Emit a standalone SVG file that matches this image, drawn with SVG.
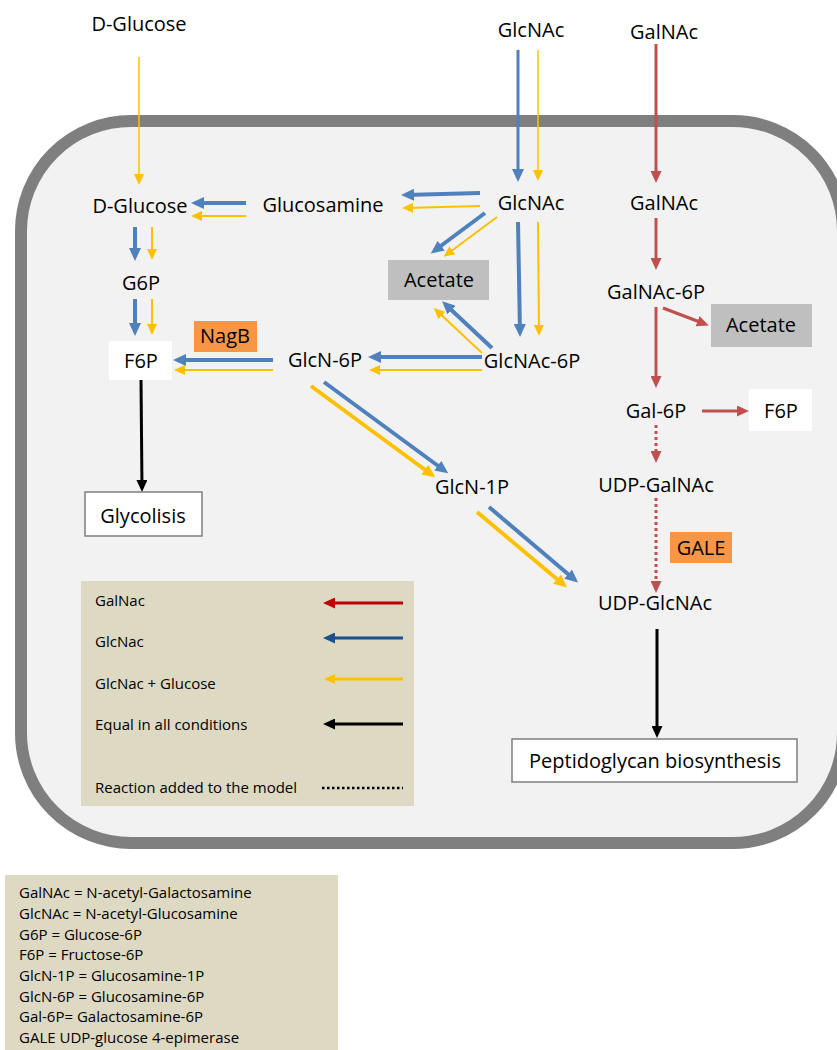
<svg xmlns="http://www.w3.org/2000/svg" width="837" height="1050" viewBox="0 0 837 1050">
<style>
text{font-family:"Open Sans","Liberation Sans",sans-serif;fill:#000}
.lbl{font-size:20px;text-anchor:middle}
.leg{font-size:15px}
.def{font-size:15px}
.b{stroke:#4f81bd;stroke-width:4;fill:none}
.bt{stroke:#4f81bd;stroke-width:3;fill:none}
.y{stroke:#ffc000;stroke-width:2;fill:none}
.yT{stroke:#ffc000;stroke-width:4;fill:none}
.yt{stroke:#ffc000;stroke-width:1.5;fill:none}
.r{stroke:#c0504d;stroke-width:3;fill:none}
.rd{stroke:#c0504d;stroke-width:3;fill:none;stroke-dasharray:3 3}
.k{stroke:#000;stroke-width:3;fill:none}
</style>
<defs>
<marker id="hb" markerUnits="userSpaceOnUse" markerWidth="14" markerHeight="12" refX="9" refY="6" orient="auto"><path d="M0,0 L13,6 L0,12 z" fill="#4f81bd"/></marker>
<marker id="hy" markerUnits="userSpaceOnUse" markerWidth="12" markerHeight="10" refX="8" refY="5" orient="auto"><path d="M0,0 L11,5 L0,10 z" fill="#ffc000"/></marker>
<marker id="hY" markerUnits="userSpaceOnUse" markerWidth="14" markerHeight="12" refX="9" refY="6" orient="auto"><path d="M0,0 L13,6 L0,12 z" fill="#ffc000"/></marker>
<marker id="hr" markerUnits="userSpaceOnUse" markerWidth="13" markerHeight="11" refX="8" refY="5.5" orient="auto"><path d="M0,0 L12,5.5 L0,11 z" fill="#c0504d"/></marker>
<marker id="hk" markerUnits="userSpaceOnUse" markerWidth="13" markerHeight="11" refX="8" refY="5.5" orient="auto"><path d="M0,0 L12,5.5 L0,11 z" fill="#000"/></marker>
<marker id="lr" markerUnits="userSpaceOnUse" markerWidth="13" markerHeight="11" refX="8" refY="5.5" orient="auto"><path d="M0,0 L12,5.5 L0,11 z" fill="#c00000"/></marker>
<marker id="lb" markerUnits="userSpaceOnUse" markerWidth="13" markerHeight="11" refX="8" refY="5.5" orient="auto"><path d="M0,0 L12,5.5 L0,11 z" fill="#1f4e8c"/></marker>
</defs>

<g id="cell">
<rect x="21" y="121" width="822" height="722" rx="110" ry="110" fill="#f2f2f2" stroke="#7f7f7f" stroke-width="12"/>
</g>

<g id="connectors">
<!-- external -->
<line class="yt" x1="139" y1="57" x2="139" y2="182" marker-end="url(#hy)"/>
<line class="bt" x1="518" y1="50" x2="518" y2="178" marker-end="url(#hb)"/>
<line class="yt" x1="538" y1="50" x2="538" y2="178" marker-end="url(#hy)"/>
<line class="r" x1="656" y1="44" x2="656" y2="179" marker-end="url(#hr)"/>
<!-- GlcNAc -> Glucosamine -->
<line class="b" x1="480" y1="193" x2="405" y2="195" marker-end="url(#hb)"/>
<line class="y" x1="480" y1="206" x2="405" y2="208" marker-end="url(#hy)"/>
<!-- Glucosamine -> D-Glucose -->
<line class="b" x1="246" y1="203" x2="195" y2="203" marker-end="url(#hb)"/>
<line class="y" x1="246" y1="216" x2="194" y2="216" marker-end="url(#hy)"/>
<!-- GlcNAc -> Acetate -->
<line class="b" x1="485" y1="213" x2="434" y2="251" marker-end="url(#hb)"/>
<line class="y" x1="497" y1="217" x2="446" y2="255" marker-end="url(#hy)"/>
<!-- GlcNAc -> GlcNAc-6P -->
<line class="b" x1="518" y1="222" x2="520" y2="333" marker-end="url(#hb)"/>
<line class="y" x1="538" y1="222" x2="539" y2="333" marker-end="url(#hy)"/>
<!-- GlcNAc-6P -> Acetate -->
<line class="b" x1="492" y1="348" x2="445" y2="304" marker-end="url(#hb)"/>
<line class="y" x1="482" y1="353" x2="436" y2="310" marker-end="url(#hy)"/>
<!-- GlcNAc-6P -> GlcN-6P -->
<line class="b" x1="482" y1="357" x2="372" y2="357" marker-end="url(#hb)"/>
<line class="y" x1="482" y1="370" x2="372" y2="370" marker-end="url(#hy)"/>
<!-- GlcN-6P -> F6P -->
<line class="b" x1="273" y1="360" x2="177" y2="360" marker-end="url(#hb)"/>
<line class="y" x1="273" y1="370" x2="177" y2="370" marker-end="url(#hy)"/>
<!-- D-Glucose -> G6P -> F6P -->
<line class="b" x1="135" y1="227" x2="135" y2="257" marker-end="url(#hb)"/>
<line class="y" x1="152" y1="227" x2="152" y2="257" marker-end="url(#hy)"/>
<line class="b" x1="135" y1="299" x2="135" y2="332" marker-end="url(#hb)"/>
<line class="y" x1="152" y1="299" x2="152" y2="332" marker-end="url(#hy)"/>
<!-- GlcN-6P -> GlcN-1P -->
<line class="b" x1="324" y1="382" x2="445" y2="471" marker-end="url(#hb)"/>
<line class="yT" x1="311" y1="386" x2="432" y2="475" marker-end="url(#hY)"/>
<!-- GlcN-1P -> UDP-GlcNAc -->
<line class="b" x1="489" y1="507" x2="575" y2="580" marker-end="url(#hb)"/>
<line class="yT" x1="477" y1="512" x2="564" y2="585" marker-end="url(#hY)"/>
<!-- black -->
<line class="k" x1="141" y1="380" x2="142" y2="488" marker-end="url(#hk)"/>
<line class="k" x1="657" y1="629" x2="657" y2="734" marker-end="url(#hk)"/>
<!-- GalNAc branch -->
<line class="r" x1="656" y1="218" x2="656" y2="266" marker-end="url(#hr)"/>
<line class="r" x1="663" y1="308" x2="705" y2="324" marker-end="url(#hr)"/>
<line class="r" x1="656" y1="307" x2="656" y2="384" marker-end="url(#hr)"/>
<line class="r" x1="702" y1="411" x2="745" y2="411" marker-end="url(#hr)"/>
<line class="rd" x1="656" y1="425" x2="656" y2="459" marker-end="url(#hr)"/>
<line class="rd" x1="656" y1="498" x2="656" y2="589" marker-end="url(#hr)"/>
</g>

<g id="n-dglucose-ext"><text class="lbl" x="139" y="31">D-Glucose</text></g>
<g id="n-glcnac-ext"><text class="lbl" x="531" y="37">GlcNAc</text></g>
<g id="n-galnac-ext"><text class="lbl" x="664" y="39">GalNAc</text></g>
<g id="n-dglucose"><text class="lbl" x="140" y="213">D-Glucose</text></g>
<g id="n-glucosamine"><text class="lbl" x="323" y="212">Glucosamine</text></g>
<g id="n-glcnac"><text class="lbl" x="531" y="210">GlcNAc</text></g>
<g id="n-galnac"><text class="lbl" x="664" y="210">GalNAc</text></g>
<g id="n-acetate1"><rect x="388" y="260" width="101" height="40" fill="#bfbfbf"/><text class="lbl" x="439" y="287">Acetate</text></g>
<g id="n-g6p"><text class="lbl" x="141" y="290">G6P</text></g>
<g id="n-nagb"><rect x="194" y="321" width="63" height="31" fill="#f79646"/><text class="lbl" x="225" y="343">NagB</text></g>
<g id="n-f6p"><rect x="109" y="341" width="63" height="39" fill="#fff"/><text class="lbl" x="141" y="368">F6P</text></g>
<g id="n-glcn6p"><text class="lbl" x="325" y="367">GlcN-6P</text></g>
<g id="n-glcnac6p"><text class="lbl" x="532" y="368">GlcNAc-6P</text></g>
<g id="n-glcn1p"><text class="lbl" x="472" y="494">GlcN-1P</text></g>
<g id="n-galnac6p"><text class="lbl" x="656" y="299">GalNAc-6P</text></g>
<g id="n-acetate2"><rect x="711" y="304" width="101" height="43" fill="#bfbfbf"/><text class="lbl" x="761" y="332">Acetate</text></g>
<g id="n-gal6p"><text class="lbl" x="656" y="418">Gal-6P</text></g>
<g id="n-f6p2"><rect x="749" y="389" width="63" height="42" fill="#fff"/><text class="lbl" x="781" y="418">F6P</text></g>
<g id="n-udpgalnac"><text class="lbl" x="656" y="492">UDP-GalNAc</text></g>
<g id="n-gale"><rect x="670" y="532" width="62" height="31" fill="#f79646"/><text class="lbl" x="701" y="555">GALE</text></g>
<g id="n-udpglcnac"><text class="lbl" x="655" y="610">UDP-GlcNAc</text></g>
<g id="n-glycolisis"><rect x="85" y="492" width="117" height="44" fill="#fff" stroke="#7f7f7f" stroke-width="1.5"/><text class="lbl" x="143" y="523">Glycolisis</text></g>
<g id="n-peptido"><rect x="512" y="739" width="285" height="43" fill="#fff" stroke="#7f7f7f" stroke-width="1.5"/><text class="lbl" x="655" y="768">Peptidoglycan biosynthesis</text></g>

<g id="legend">
<rect x="81" y="581" width="333" height="225" fill="#ddd9c3"/>
<text class="leg" x="95" y="606">GalNac</text>
<text class="leg" x="95" y="647">GlcNac</text>
<text class="leg" x="95" y="689">GlcNac + Glucose</text>
<text class="leg" x="95" y="730">Equal in all conditions</text>
<text class="leg" x="95" y="793">Reaction added to the model</text>
<line x1="403" y1="603" x2="327" y2="603" stroke="#c00000" stroke-width="3" marker-end="url(#lr)"/>
<line x1="403" y1="638" x2="327" y2="638" stroke="#1f4e8c" stroke-width="3" marker-end="url(#lb)"/>
<line x1="403" y1="679" x2="327" y2="679" stroke="#ffc000" stroke-width="3" marker-end="url(#hy)"/>
<line x1="403" y1="724" x2="327" y2="724" stroke="#000" stroke-width="3" marker-end="url(#hk)"/>
<line x1="322" y1="788" x2="403" y2="788" stroke="#000" stroke-width="2.5" stroke-dasharray="2.5 2.5"/>
</g>

<g id="definitions">
<rect x="5" y="875" width="333" height="175" fill="#ddd9c3"/>
<text class="def" x="19" y="898">GalNAc = N-acetyl-Galactosamine</text>
<text class="def" x="19" y="919">GlcNAc = N-acetyl-Glucosamine</text>
<text class="def" x="19" y="940">G6P = Glucose-6P</text>
<text class="def" x="19" y="960">F6P = Fructose-6P</text>
<text class="def" x="19" y="981">GlcN-1P = Glucosamine-1P</text>
<text class="def" x="19" y="1002">GlcN-6P = Glucosamine-6P</text>
<text class="def" x="19" y="1022">Gal-6P= Galactosamine-6P</text>
<text class="def" x="19" y="1043">GALE UDP-glucose 4-epimerase</text>
</g>
</svg>
